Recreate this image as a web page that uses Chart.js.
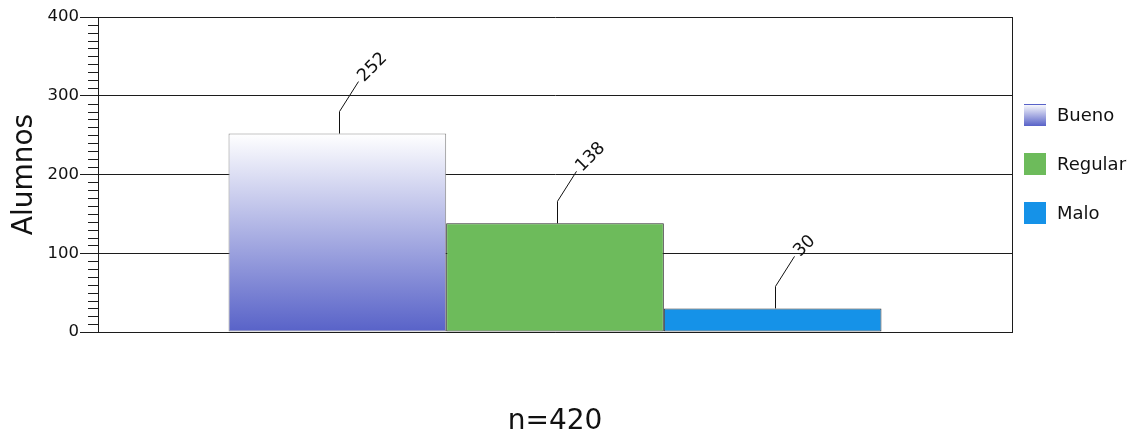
<!DOCTYPE html>
<html>
<head>
<meta charset="utf-8">
<script src="https://cdn.jsdelivr.net/npm/chart.js@4.4.1/dist/chart.umd.min.js"></script>
<style>
  html, body { margin: 0; padding: 0; background: #ffffff; }
  #c { display: block; }
</style>
</head>
<body>
<canvas id="c" width="1131" height="435"></canvas>
<script>
// Chart data
const categories = [''];
const seriesNames = ['Bueno', 'Regular', 'Malo'];
const bueno = [252];
const regular = [138];
const malo = [30];
const yTickValues = [0, 100, 200, 300, 400];
const yAxisTitle = 'Alumnos';
const xAxisTitle = 'n=420';

// Styles
const FONT = '"DejaVu Sans", Verdana, sans-serif';
const INK = '#111111';
const LINE = '#1c1c1c';
const BUENO_TOP = '#ffffff';
const BUENO_BOTTOM = '#5862c8';
const seriesColors = [null, '#6dbb5b', '#1592e8'];
const seriesBorders = ['#8c8c8c', '#2a2a2a', '#333333'];

function buenoFill(ctx) {
  const chart = ctx.chart;
  const y = chart.scales && chart.scales.y;
  if (!chart.chartArea || !y) return BUENO_BOTTOM;
  const top = y.getPixelForValue(bueno[0]);
  const bottom = y.getPixelForValue(0);
  const g = chart.ctx.createLinearGradient(0, top, 0, bottom);
  g.addColorStop(0, BUENO_TOP);
  g.addColorStop(1, BUENO_BOTTOM);
  return g;
}

// Short minor tick marks every 10 units along the value axis
const minorTicks = {
  id: 'minorTicks',
  afterDraw(chart) {
    const s = chart.scales.y;
    const ctx = chart.ctx;
    const x1 = chart.chartArea.left;
    ctx.save();
    ctx.strokeStyle = LINE;
    ctx.lineWidth = 1;
    ctx.beginPath();
    for (let v = s.min; v <= s.max; v += 10) {
      if (v % 100 === 0) continue;
      const py = Math.round(s.getPixelForValue(v)) + 0.5;
      ctx.moveTo(x1 - 10, py);
      ctx.lineTo(x1, py);
    }
    ctx.stroke();
    ctx.restore();
  }
};

// Value callouts: leader line from the bar top, rotated value text
const valueCallouts = {
  id: 'valueCallouts',
  afterDatasetsDraw(chart) {
    const ctx = chart.ctx;
    ctx.save();
    chart.data.datasets.forEach((ds, di) => {
      const meta = chart.getDatasetMeta(di);
      meta.data.forEach((bar, i) => {
        const x = Math.round(bar.x) + 2.5;
        const top = bar.y;
        const kx = x, ky = top - 22;
        const ex = x + 19, ey = top - 52;
        ctx.strokeStyle = '#111';
        ctx.lineWidth = 1;
        ctx.beginPath();
        ctx.moveTo(x, top);
        ctx.lineTo(kx, ky);
        ctx.lineTo(ex, ey);
        ctx.stroke();
        ctx.save();
        ctx.translate(ex + 2.3, ey - 2.3);
        ctx.rotate(-Math.PI / 4);
        ctx.font = '17.5px ' + FONT;
        ctx.fillStyle = INK;
        ctx.textAlign = 'left';
        ctx.textBaseline = 'middle';
        ctx.fillText(String(ds.data[i]), 0, 0);
        ctx.restore();
      });
    });
    ctx.restore();
  }
};

// Legend at the right of the plot
const sideLegend = {
  id: 'sideLegend',
  afterDraw(chart) {
    const ctx = chart.ctx;
    const area = chart.chartArea;
    ctx.save();
    chart.data.datasets.forEach((ds, i) => {
      const bx = area.right + 12;
      const by = area.top + 87 + i * 49;
      const size = 22;
      if (i === 0) {
        const g = ctx.createLinearGradient(0, by, 0, by + size);
        g.addColorStop(0, BUENO_TOP);
        g.addColorStop(1, BUENO_BOTTOM);
        ctx.fillStyle = g;
        ctx.fillRect(bx, by, size, size);
        ctx.fillStyle = BUENO_BOTTOM;
        ctx.fillRect(bx, by, size, 1);
      } else {
        ctx.fillStyle = ds.backgroundColor;
        ctx.fillRect(bx, by, size, size);
      }
      ctx.font = '18px ' + FONT;
      ctx.fillStyle = INK;
      ctx.textAlign = 'left';
      ctx.textBaseline = 'middle';
      ctx.fillText(ds.label, bx + size + 11, by + size / 2 + 1);
    });
    ctx.restore();
  }
};

const datasets = [bueno, regular, malo].map((vals, i) => ({
  label: seriesNames[i],
  data: vals,
  backgroundColor: i === 0 ? buenoFill : seriesColors[i],
  borderColor: seriesBorders[i],
  borderWidth: 1,
  borderSkipped: false,
  categoryPercentage: 0.7144,
  barPercentage: 1
}));

new Chart(document.getElementById('c'), {
  type: 'bar',
  data: { labels: categories, datasets },
  plugins: [minorTicks, valueCallouts, sideLegend],
  options: {
    responsive: false,
    animation: false,
    layout: { padding: { top: 17, right: 119, bottom: 0, left: 0 } },
    plugins: {
      legend: { display: false },
      tooltip: { enabled: false }
    },
    scales: {
      x: {
        grid: { display: true, offset: true, color: LINE, drawTicks: false, lineWidth: 1 },
        border: { display: true, color: LINE },
        ticks: { display: false },
        title: {
          display: true, text: xAxisTitle, color: INK, padding: 0,
          font: { family: FONT, size: 28, lineHeight: 0.95 }
        },
        afterFit(s) { s.height = 103; }
      },
      y: {
        min: 0,
        max: 400,
        afterBuildTicks(s) { s.ticks = yTickValues.map(v => ({ value: v })); },
        grid: { color: LINE, tickColor: LINE, tickLength: 18, lineWidth: 1 },
        border: { display: true, color: LINE },
        ticks: { color: INK, padding: 1, font: { family: FONT, size: 16.5 } },
        title: {
          display: true, text: yAxisTitle, color: INK,
          padding: { top: 8, bottom: 0 },
          font: { family: FONT, size: 28 }
        },
        afterFit(s) { s.width = 98; }
      }
    }
  }
});
</script>
</body>
</html>
